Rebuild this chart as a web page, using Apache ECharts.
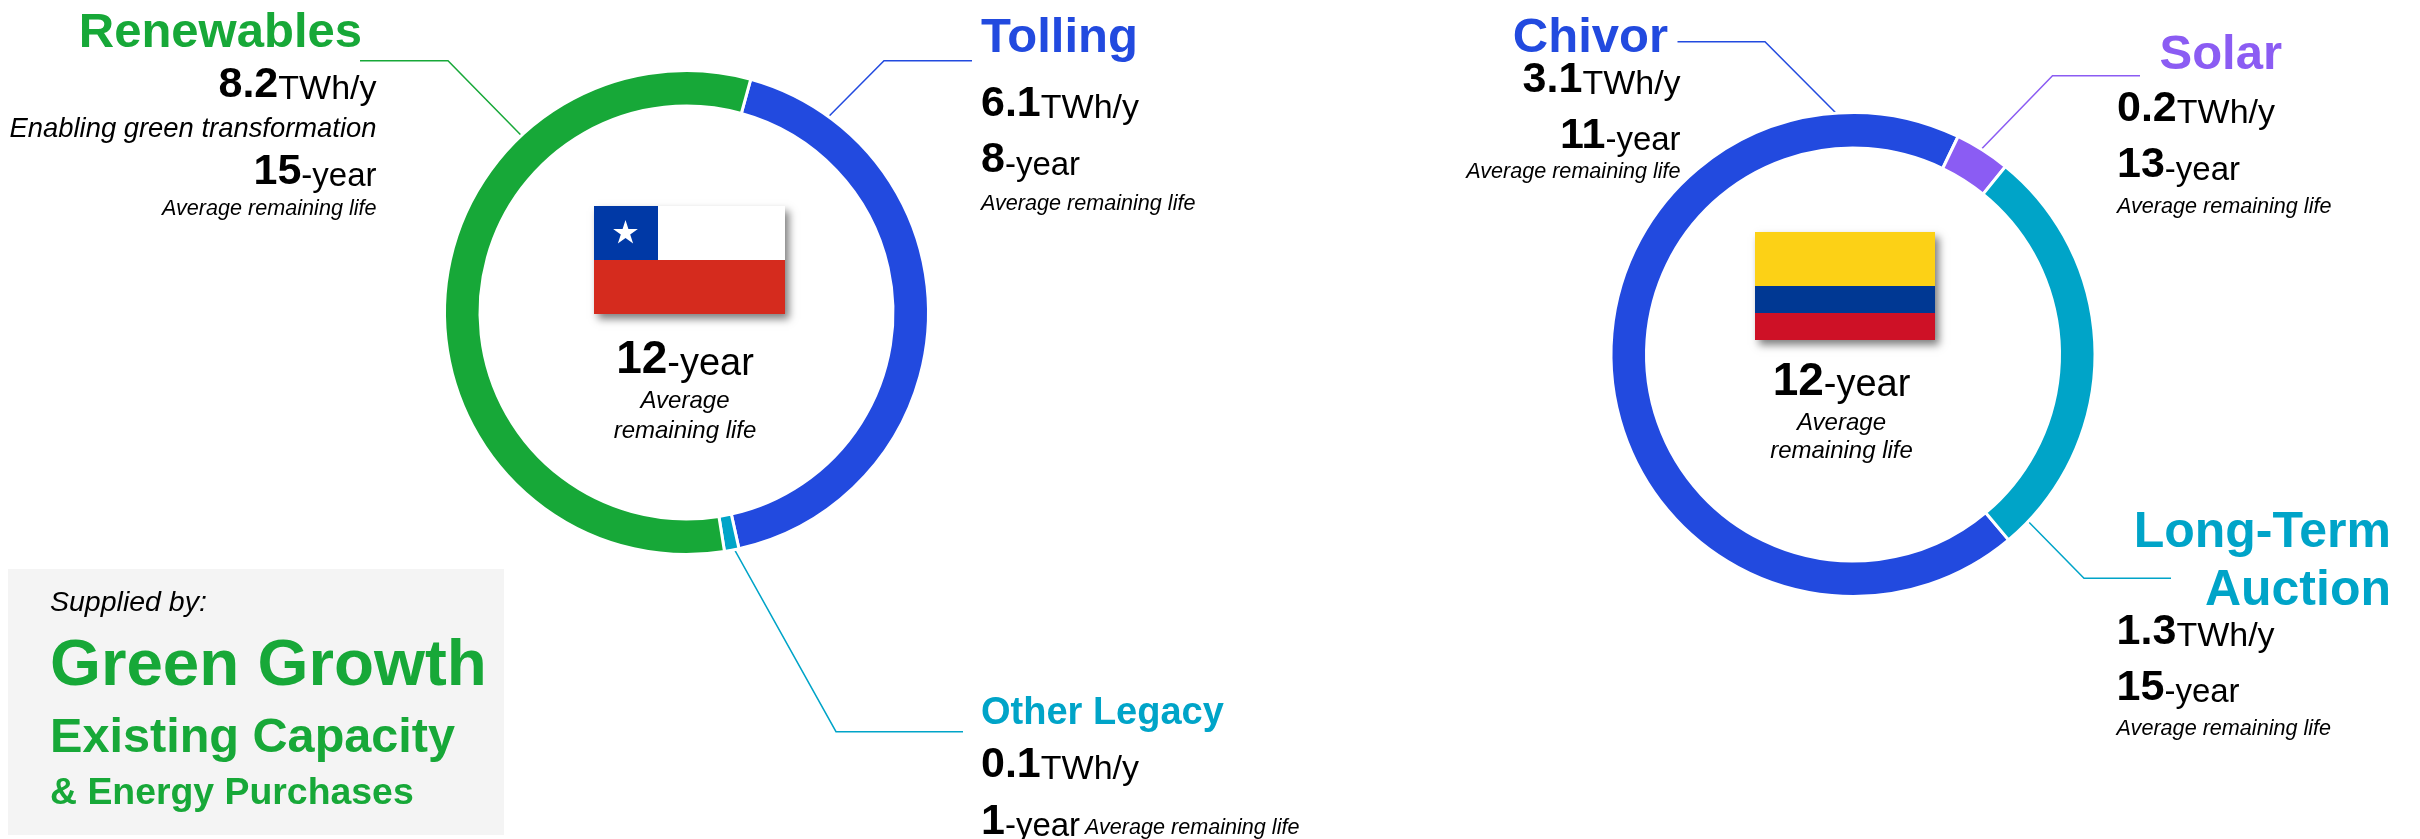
<!DOCTYPE html>
<html>
<head>
<meta charset="utf-8">
<style>
  html, body { margin: 0; padding: 0; background: #fff; }
  #chart { width: 2420px; height: 839px; }
</style>
<script src="https://cdn.jsdelivr.net/npm/echarts@6/dist/echarts.min.js"></script>
</head>
<body>
<div id="chart"></div>
<script>
// chile, TWh/y
const chileNames = ['Tolling', 'Other Legacy', 'Renewables']
const chileValues = [6.1, 0.14, 8.2]
const chileSupply = ['6.1', '0.1', '8.2']
const chileYears = ['8', '1', '15']

// colombia
const colombiaNames = ['Chivor', 'Solar', 'Long-Term\nAuction']
const colombiaValues = [3.14, 0.17, 1.29]
const colombiaSupply = ['3.1', '0.2', '1.3']
const colombiaYears = ['11', '13', '15']

const centerYears = ['12', '12']
const noteText = 'Average remaining life'
const boxLines = ['Supplied by:', 'Green Growth', 'Existing Capacity', '& Energy Purchases']

const GREEN = '#17A838'
const BLUE = '#224ADF'
const TEAL = '#00A4C8'
const PURPLE = '#8B5CF3'
const FONT = '"Liberation Sans", Arial, sans-serif'

const chileColors = [BLUE, TEAL, GREEN]
const colombiaColors = [BLUE, PURPLE, TEAL]

const chileCenter = [686.5, 312.5]
const colombiaCenter = [1853, 354.5]
const radius = [206.5, 242]

// title anchor + leader line: attach angle on the ring (deg from 12 o'clock), elbow and end
const chileLabels = [
  { x: 981, base: 52, align: 'left', size: 49, angle: 35.9, elbow: [884, 60.7], end: [972, 60.7] },
  { x: 981, base: 724, align: 'left', size: 38, angle: 168.7, elbow: [836, 731.7], end: [963, 731.7] },
  { x: 362, base: 47, align: 'right', size: 49, angle: 317, elbow: [448, 60.7], end: [360, 60.7] }
]
const colombiaLabels = [
  { x: 1668, base: 51.7, align: 'right', size: 49, angle: 356.4, elbow: [1765, 41.7], end: [1677.5, 41.7] },
  { x: 2282, base: 68.3, align: 'right', size: 49, angle: 31.9, elbow: [2052.5, 75.7], end: [2140, 75.7] },
  { x: 2391, base: 575.7, align: 'right', size: 50, angle: 133.6, elbow: [2084, 578.3], end: [2171, 578.3] }
]

// distance from a text's middle to its baseline
function midOffset(size) {
  return size * 0.26 + 0.5
}

function pieSeries(names, values, colors, labels, center, startAngle) {
  return {
    type: 'pie',
    center: center,
    radius: radius,
    startAngle: startAngle,
    clockwise: true,
    avoidLabelOverlap: false,
    silent: true,
    animation: false,
    itemStyle: { borderColor: '#fff', borderWidth: 3 },
    label: {
      show: true,
      position: 'outside',
      fontFamily: FONT,
      fontWeight: 'bold',
      lineHeight: 58,
      formatter: '{b}'
    },
    labelLine: { show: true, smooth: false },
    labelLayout(params) {
      const l = labels[params.dataIndex]
      const a = l.angle * Math.PI / 180
      const r = radius[1] - 2
      return {
        x: l.x,
        y: l.base - midOffset(l.size),
        align: l.align,
        verticalAlign: 'middle',
        labelLinePoints: [
          [center[0] + r * Math.sin(a), center[1] - r * Math.cos(a)],
          l.elbow,
          l.end
        ]
      }
    },
    data: names.map((name, i) => ({
      name: name,
      value: values[i],
      itemStyle: { color: colors[i] },
      label: { color: colors[i], fontSize: labels[i].size },
      labelLine: { lineStyle: { color: colors[i], width: 1.5 } }
    }))
  }
}

// one text line placed by its baseline
function textLine(x, base, align, text, big, rich) {
  return {
    type: 'text',
    silent: true,
    z: 10,
    style: {
      x: x,
      y: base - midOffset(big),
      text: text,
      align: align,
      verticalAlign: 'middle',
      fontFamily: FONT,
      fontSize: big,
      fill: '#000',
      rich: rich
    }
  }
}

function statRich(big, small) {
  // bottom aligned tokens, heights picked so the two sizes share a baseline
  return {
    b: { fontFamily: FONT, fontSize: big, fontWeight: 'bold', fill: '#000', lineHeight: big, verticalAlign: 'bottom' },
    u: { fontFamily: FONT, fontSize: small, fill: '#000', lineHeight: big - 0.7 * (big - small), verticalAlign: 'bottom' }
  }
}

function supplyLine(x, base, align, v) {
  return textLine(x, base, align, '{b|' + v + '}{u|TWh/y}', 43, statRich(43, 34))
}
function yearLine(x, base, align, v) {
  return textLine(x, base, align, '{b|' + v + '}{u|-year}', 43, statRich(43, 33))
}
function noteLine(x, base, align, text, size) {
  const el = textLine(x, base, align, text, size || 21.6)
  el.style.fontStyle = 'italic'
  return el
}
function boxLine(x, base, text, size) {
  const el = textLine(x, base, 'left', text, size)
  el.style.fontWeight = 'bold'
  el.style.fill = GREEN
  return el
}

function star(cx, cy, r) {
  const pts = []
  for (let i = 0; i < 10; i++) {
    const rr = i % 2 ? r * 0.38 : r
    const a = i * Math.PI / 5
    pts.push([cx + rr * Math.sin(a), cy - rr * Math.cos(a)])
  }
  return { type: 'polygon', silent: true, z: 6, shape: { points: pts }, style: { fill: '#fff' } }
}

function rect(x, y, w, h, fill, extra) {
  return {
    type: 'rect',
    silent: true,
    z: 5,
    shape: { x: x, y: y, width: w, height: h },
    style: Object.assign({ fill: fill }, extra)
  }
}

const shadow = { shadowBlur: 8, shadowColor: 'rgba(0,0,0,0.5)', shadowOffsetX: 4, shadowOffsetY: 5 }

const flags = [
  // chile
  rect(594, 206, 191, 108, '#fff', shadow),
  rect(594, 206, 64, 54, '#0039A6'),
  rect(594, 260, 191, 54, '#D52B1E'),
  star(625.5, 233, 13),
  // colombia
  rect(1755, 232, 180, 108, '#FCD116', shadow),
  rect(1755, 286, 180, 27, '#003893'),
  rect(1755, 313, 180, 27, '#CE1126')
]

const centerText = [
  textLine(685, 373, 'center', '{b|' + centerYears[0] + '}{u|-year}', 46, statRich(46, 38)),
  noteLine(685, 408, 'center', 'Average', 24),
  noteLine(685, 438, 'center', 'remaining life', 24),
  textLine(1841.5, 394.3, 'center', '{b|' + centerYears[1] + '}{u|-year}', 46, statRich(46, 38)),
  noteLine(1841.5, 430, 'center', 'Average', 24),
  noteLine(1841.5, 458, 'center', 'remaining life', 24)
]

const stats = [
  // tolling
  supplyLine(981, 115.7, 'left', chileSupply[0]),
  yearLine(981, 172.3, 'left', chileYears[0]),
  noteLine(981, 210, 'left', noteText),
  // other legacy
  supplyLine(981, 777, 'left', chileSupply[1]),
  yearLine(981, 834, 'left', chileYears[1]),
  noteLine(1085, 834, 'left', noteText),
  // renewables
  supplyLine(376.5, 96.7, 'right', chileSupply[2]),
  noteLine(376.5, 136.7, 'right', 'Enabling green transformation', 27.4),
  yearLine(376.5, 184, 'right', chileYears[2]),
  noteLine(376.5, 215, 'right', noteText),
  // chivor
  supplyLine(1680.6, 92.3, 'right', colombiaSupply[0]),
  yearLine(1680.6, 147.7, 'right', colombiaYears[0]),
  noteLine(1680.6, 178.3, 'right', noteText),
  // solar
  supplyLine(2117, 121, 'left', colombiaSupply[1]),
  yearLine(2117, 177.3, 'left', colombiaYears[1]),
  noteLine(2117, 213.3, 'left', noteText),
  // long-term auction
  supplyLine(2116.6, 644, 'left', colombiaSupply[2]),
  yearLine(2116.6, 700, 'left', colombiaYears[2]),
  noteLine(2116.6, 735, 'left', noteText)
]

const box = [
  rect(8, 569, 496, 266, '#F4F4F4'),
  noteLine(50, 611, 'left', boxLines[0], 28.5),
  boxLine(50, 684, boxLines[1], 65.5),
  boxLine(50, 752, boxLines[2], 48.6),
  boxLine(50, 804, boxLines[3], 37.4)
]

const chart = echarts.init(document.getElementById('chart'))
chart.setOption({
  animation: false,
  backgroundColor: '#fff',
  series: [
    pieSeries(chileNames, chileValues, chileColors, chileLabels, chileCenter, 74.6),
    pieSeries(colombiaNames, colombiaValues, colombiaColors, colombiaLabels, colombiaCenter, -50)
  ],
  graphic: { elements: box.concat(flags, centerText, stats) }
})
</script>
</body>
</html>
